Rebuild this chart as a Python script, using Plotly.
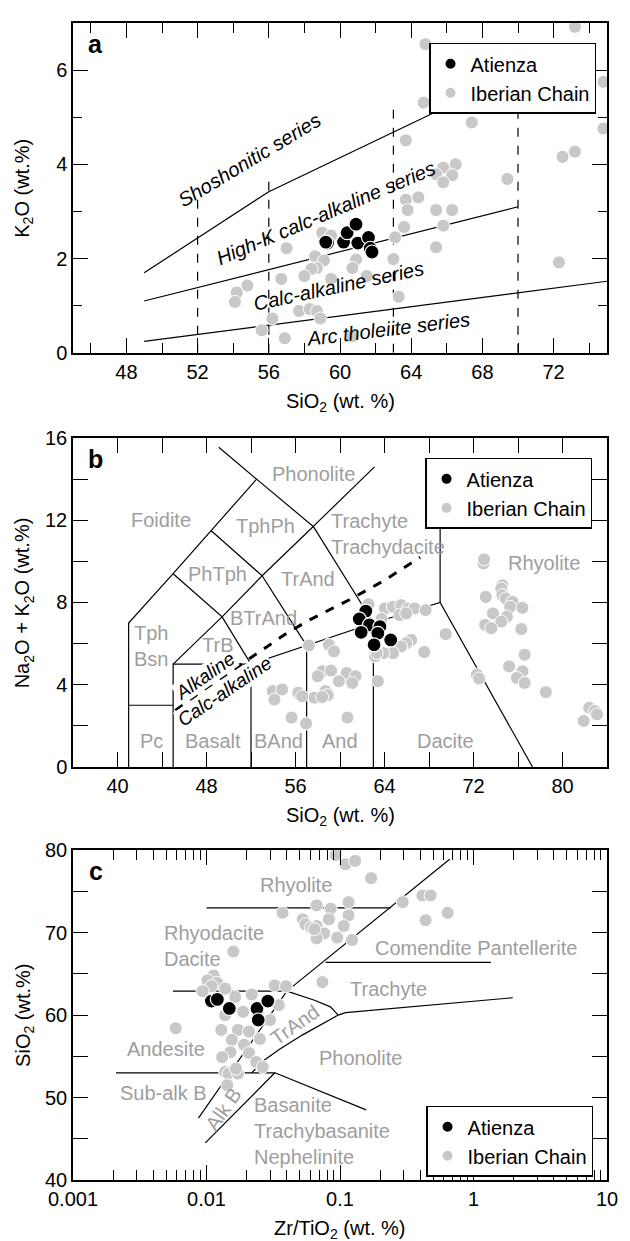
import math
import plotly.graph_objects as go

# ---------------- Panel a : K2O vs SiO2 ----------------
A_ATI_SIO2 = [59.3, 59.2, 60.2, 60.4, 60.9, 61.0, 61.6, 61.7, 61.8]
A_ATI_K2O = [2.33, 2.35, 2.35, 2.55, 2.73, 2.33, 2.45, 2.22, 2.14]
A_IBE_SIO2 = [64.8, 73.2, 74.8, 73.8, 74.8, 64.7, 67.4, 63.7, 72.5, 73.2, 69.4, 66.5, 65.8,
              65.4, 66.3, 65.8, 63.7, 64.4, 63.8, 65.4, 66.3, 63.6, 65.8, 63.1, 65.4, 63.0,
              63.3, 72.3, 57.0, 59.0, 59.5, 58.6, 59.1, 60.9, 58.7, 58.4, 60.7, 58.0, 56.7,
              59.5, 61.5, 54.8, 54.2, 54.1, 57.7, 58.3, 58.7, 58.9, 56.2, 55.6, 56.9, 60.7]
A_IBE_K2O = [6.55, 6.92, 5.75, 5.35, 4.76, 5.31, 4.89, 4.51, 4.16, 4.27, 3.69, 4.00, 3.93,
             3.79, 3.77, 3.62, 3.25, 3.30, 3.03, 3.03, 3.03, 2.67, 2.70, 2.45, 2.24, 1.99,
             1.19, 1.92, 2.22, 2.55, 2.49, 2.05, 1.96, 1.98, 1.80, 1.78, 1.80, 1.63, 1.57,
             1.57, 1.63, 1.43, 1.28, 1.08, 0.89, 0.93, 0.89, 0.73, 0.73, 0.48, 0.31, 0.35]
# series boundaries (Peccerillo & Taylor)
A_SHO_X = [49, 56, 70]
A_SHO_Y = [1.7, 3.42, 5.95]
A_HK_X = [49, 70]
A_HK_Y = [1.1, 3.1]
A_CA_X = [49, 75]
A_CA_Y = [0.245, 1.52]
A_DASH_SIO2 = [52, 56, 63, 70]
A_DASH_TOP = [3.3, 3.73, 5.35, 5.3]
A_SERIES_TEXT = ["<i>Shoshonitic series</i>", "<i>High-K calc-alkaline series</i>",
                 "<i>Calc-alkaline series</i>", "<i>Arc tholeiite series</i>"]
A_SERIES_X = [54.9, 59.2, 59.9, 62.7]
A_SERIES_Y = [4.1, 2.97, 1.42, 0.50]
A_SERIES_ANG = [-31, -23, -12, -7]

# ---------------- Panel b : TAS ----------------
B_ATI_SIO2 = [62.32, 61.73, 62.64, 63.59, 61.9, 63.4, 64.56, 63.06]
B_ATI_ALK = [7.58, 7.20, 6.91, 6.83, 6.55, 6.50, 6.18, 5.94]
B_IBE_SIO2 = [64.03, 64.76, 65.5, 66.1, 66.7, 67.7, 65.35, 65.95, 62.55, 63.73, 69.5, 66.4,
              65.95, 65.5, 67.57, 64.76, 63.9, 57.2, 59.0, 59.46, 63.15, 63.4, 58.4, 59.2,
              60.6, 61.4, 58.0, 59.9, 61.1, 58.7, 58.9, 57.7, 58.4, 56.25, 56.6, 53.95, 54.8,
              54.1, 55.65, 56.95, 60.67, 72.9, 72.95, 74.6, 73.1, 74.5, 74.6, 74.9, 75.5,
              75.3, 76.4, 73.75, 75.0, 74.5, 73.05, 73.6, 76.3, 76.6, 75.2, 76.4, 75.9, 76.6,
              78.5, 72.3, 72.5, 81.9, 82.4, 82.9, 83.1, 63.2, 63.3]
B_IBE_ALK = [7.71, 7.79, 7.87, 7.71, 7.71, 7.63, 7.39, 7.47, 7.91, 7.20, 6.46, 6.18,
             6.02, 5.86, 5.59, 5.54, 5.54, 5.91, 5.94, 5.62, 5.38, 4.17, 4.65, 4.69,
             4.57, 4.41, 4.41, 4.17, 4.09, 3.69, 3.49, 3.37, 3.40, 3.61, 3.44, 3.69, 3.77,
             3.28, 2.40, 2.11, 2.40, 9.9, 10.1, 8.84, 8.27, 8.68, 8.36, 8.2, 8.03,
             7.79, 7.74, 7.47, 7.31, 7.07, 6.91, 6.75, 6.71, 5.46, 4.89, 4.65, 4.33, 4.09,
             3.64, 4.49, 4.30, 2.24, 2.88, 2.72, 2.56, 5.70, 5.55]
B_FIELD_LINES = [
    [(41, 0), (41, 7), (45, 9.4), (48.4, 11.5), (52.5, 14), (49.1, 15.55)],
    [(41, 3), (45, 3)],
    [(45, 0), (45, 5), (52, 5), (57, 5.9), (63, 7), (69, 8), (77.3, 0)],
    [(52, 0), (52, 5)],
    [(57, 0), (57, 5.9)],
    [(63, 0), (63, 7)],
    [(45, 5), (49.4, 7.3), (45, 9.4)],
    [(49.4, 7.3), (52, 5)],
    [(49.4, 7.3), (53, 9.3), (48.4, 11.5)],
    [(53, 9.3), (57, 5.9)],
    [(53, 9.3), (57.6, 11.7), (52.5, 14)],
    [(57.6, 11.7), (63, 7)],
    [(57.6, 11.7), (63.1, 14.6)],
    [(69, 8), (69, 13)],
]
B_IB_X = [45.2, 48, 51, 55.2, 57.25, 60.8, 64, 67.2]
B_IB_Y = [2.75, 3.85, 4.95, 6.5, 7.15, 8.12, 9.08, 10.2]
B_FIELD_TEXT = ["Phonolite", "Foidite", "TphPh", "PhTph", "TrAnd", "BTrAnd", "TrB",
                "Tph<br>Bsn", "Pc", "Basalt", "BAnd", "And", "Dacite", "Rhyolite"]
B_FIELD_X = [57.6, 43.9, 53.3, 49.0, 57.1, 53.1, 49.0, 43.0, 43.1, 48.6, 54.5, 60.0, 69.5, 78.3]
B_FIELD_Y = [14.27, 12.0, 11.7, 9.4, 9.16, 7.23, 5.95, 5.9, 1.27, 1.27, 1.27, 1.27, 1.27, 9.94]

# ---------------- Panel c : Winchester & Floyd ----------------
C_ATI_ZRTI = [0.01089, 0.01206, 0.01482, 0.02389, 0.0288, 0.0244]
C_ATI_SIO2 = [61.7, 61.9, 60.8, 60.8, 61.7, 59.4]
C_IBE_ZRTI = [0.0927, 0.110, 0.130, 0.171, 0.295, 0.414, 0.477, 0.641, 0.438, 0.0668, 0.0851,
              0.116, 0.116, 0.0826, 0.0526, 0.0550, 0.0668, 0.076, 0.1067, 0.0668, 0.0953,
              0.123, 0.0371, 0.0607, 0.0643, 0.0159, 0.0113, 0.01017, 0.01205, 0.0109,
              0.00935, 0.01381, 0.0164, 0.0218, 0.0325, 0.0394, 0.0348, 0.0738, 0.0138,
              0.0188, 0.0129, 0.0172, 0.0208, 0.0155, 0.0191, 0.0251, 0.0299, 0.00588,
              0.0151, 0.0208, 0.0131, 0.0236, 0.0264, 0.0138, 0.0146, 0.0172, 0.0166,
              0.0143, 0.0242]
C_IBE_SIO2 = [79.4, 78.3, 78.7, 76.6, 73.7, 74.5, 74.5, 72.4, 71.5, 73.3, 72.9,
              73.7, 72.1, 71.6, 71.6, 71.0, 70.8, 69.9, 70.8, 69.3, 69.4,
              69.1, 72.4, 70.6, 70.4, 67.7, 64.8, 64.2, 63.9, 63.5,
              62.9, 63.2, 62.2, 62.5, 63.6, 63.5, 61.2, 64.0, 60.0,
              60.4, 58.2, 58.2, 58.0, 57.0, 56.4, 57.1, 59.4, 58.4,
              55.5, 55.4, 54.9, 54.3, 53.7, 53.1, 52.9, 52.9, 53.5,
              51.5, 60.2]
C_FIELD_LINES = [
    [(0.01, 73), (0.24, 73)],
    [(0.0056, 62.9), (0.04, 62.9)],
    [(0.04, 62.9), (0.663, 78.9)],
    [(0.04, 62.9), (0.0644, 61.8), (0.0848, 61.0), (0.097, 60.0)],
    [(0.097, 60.0), (0.11, 60.3), (1.97, 62.1)],
    [(0.0218, 53.0), (0.0264, 54.4), (0.0348, 55.8), (0.0525, 57.6), (0.097, 60.0)],
    [(0.078, 66.4), (1.35, 66.4)],
    [(0.0021, 53), (0.0325, 53)],
    [(0.0325, 53), (0.157, 48.5)],
    [(0.0325, 53), (0.0098, 44.5)],
    [(0.0087, 47.5), (0.04, 62.9)],
]
C_FIELD_TEXT = ["Rhyolite", "Rhyodacite<br>Dacite", "Comendite Pantellerite", "Trachyte",
                "Phonolite", "Andesite", "Sub-alk B", "Basanite<br>Trachybasanite<br>Nephelinite"]
C_FIELD_X = [0.047, 0.00462, 1.04, 0.232, 0.142, 0.0050, 0.0048, 0.0218]
C_FIELD_Y = [75.8, 68.4, 68.1, 63.2, 54.8, 55.9, 50.6, 46.0]
C_FIELD_ALIGN = ["center", "left", "center", "center", "center", "center", "center", "left"]
C_TILT_TEXT = ["TrAnd", "Alk B"]
C_TILT_X = [0.0457, 0.0134]
C_TILT_Y = [58.8, 48.6]
C_TILT_ANG = [-35, -55]

X_LOG_TICKVALS = [0.001, 0.01, 0.1, 1, 10]
X_LOG_TICKTEXT = ["0.001", "0.01", "0.1", "1", "10"]

FONT = "Liberation Sans, Arial, Helvetica, sans-serif"
GRAY_PT = "#c8c8c8"
GRAY_TXT = "#9e9e9e"

fig = go.Figure()


def seg_xy(lines):
    xs, ys = [], []
    for line in lines:
        for (x, y) in line:
            xs.append(x)
            ys.append(y)
        xs.append(None)
        ys.append(None)
    return xs, ys


def add_line(x, y, xa, ya, dash="solid", width=1.2):
    fig.add_trace(go.Scatter(x=x, y=y, mode="lines", xaxis=xa, yaxis=ya, showlegend=False,
                             hoverinfo="skip", line=dict(color="black", width=width, dash=dash)))


def add_points(x, y, xa, ya, legend):
    fig.add_trace(go.Scatter(x=x, y=y, mode="markers", xaxis=xa, yaxis=ya, name="Iberian Chain",
                             legend=legend, legendrank=2,
                             marker=dict(color=GRAY_PT, size=13,
                                         line=dict(color="white", width=1))))


def add_ati(x, y, xa, ya, legend):
    fig.add_trace(go.Scatter(x=x, y=y, mode="markers", xaxis=xa, yaxis=ya, name="Atienza",
                             legend=legend, legendrank=1,
                             marker=dict(color="black", size=14,
                                         line=dict(color="white", width=1.2))))


# ---- panel a lines
add_line(A_SHO_X, A_SHO_Y, "x", "y")
add_line(A_HK_X, A_HK_Y, "x", "y")
add_line(A_CA_X, A_CA_Y, "x", "y")
dx, dy = [], []
for s, t in zip(A_DASH_SIO2, A_DASH_TOP):
    dx += [s, s, None]
    dy += [0, t, None]
add_line(dx, dy, "x", "y", dash="dash")
# ---- panel b lines
bx, by = seg_xy(B_FIELD_LINES)
add_line(bx, by, "x2", "y2")
add_line(B_IB_X, B_IB_Y, "x2", "y2", dash="dash", width=3)
# ---- panel c lines
cx, cy = seg_xy(C_FIELD_LINES)
add_line(cx, cy, "x3", "y3")

# ---- points: gray below, black on top
add_points(A_IBE_SIO2, A_IBE_K2O, "x", "y", "legend")
add_points(B_IBE_SIO2, B_IBE_ALK, "x2", "y2", "legend2")
add_points(C_IBE_ZRTI, C_IBE_SIO2, "x3", "y3", "legend3")
add_ati(A_ATI_SIO2, A_ATI_K2O, "x", "y", "legend")
add_ati(B_ATI_SIO2, B_ATI_ALK, "x2", "y2", "legend2")
add_ati(C_ATI_ZRTI, C_ATI_SIO2, "x3", "y3", "legend3")

# ---------------- layout ----------------
H, W = 1241, 630
ML, MR, MT, MB = 73, 14, 12, 61
PH = H - MT - MB


def dom(top_px, bot_px):
    return [(H - MB - bot_px) / PH, (H - MB - top_px) / PH]


DOM_A = dom(12, 345)
DOM_B = dom(431, 763)
DOM_C = dom(847, 1180)


def ax(**kw):
    base = dict(showline=True, linecolor="black", linewidth=1.5, mirror="ticks", ticks="inside",
                ticklen=15, tickwidth=1.3, tickcolor="black", showgrid=False, zeroline=False,
                tickfont=dict(size=20, color="black", family=FONT))
    base.update(kw)
    return base


def minor(dtick, ln):
    return dict(ticks="inside", ticklen=ln, tickwidth=1.3, tickcolor="black", dtick=dtick,
                showgrid=False)


fig.update_layout(
    width=W, height=H, margin=dict(l=ML, r=MR, t=MT, b=MB),
    paper_bgcolor="white", plot_bgcolor="white",
    font=dict(family=FONT, size=20, color="black"),
    xaxis=ax(domain=[0, 1], range=[45, 75], dtick=4, tick0=0, minor=minor(2, 10), anchor="y"),
    yaxis=ax(domain=DOM_A, range=[0, 7], dtick=2, tick0=0, minor=minor(1, 9), anchor="x"),
    xaxis2=ax(domain=[0, 1], range=[36, 84], dtick=8, tick0=0, minor=minor(4, 15), anchor="y2"),
    yaxis2=ax(domain=DOM_B, range=[0, 16], dtick=4, tick0=0, minor=minor(2, 15), anchor="x2"),
    xaxis3=ax(domain=[0, 1], type="log", range=[-3, 1], tickvals=X_LOG_TICKVALS,
              ticktext=X_LOG_TICKTEXT, minor=minor("D1", 10), anchor="y3"),
    yaxis3=ax(domain=DOM_C, range=[40, 80], dtick=10, tick0=0, minor=minor(5, 15), anchor="x3"),
    showlegend=True,
)

LEG = dict(bgcolor="white", bordercolor="black", borderwidth=1.5, xanchor="left", yanchor="top",
           font=dict(size=20, family=FONT, color="black"), itemsizing="constant",
           tracegroupgap=0)


def px_x(px):
    return (px - ML) / (W - ML - MR)


def px_y(py):
    return (H - MB - py) / PH


fig.update_layout(
    legend=dict(LEG, x=px_x(435), y=px_y(32)),
    legend2=dict(LEG, x=px_x(431), y=px_y(451)),
    legend3=dict(LEG, x=px_x(432), y=px_y(1105)),
)

ann = []
# panel letters
for letter, (d0, d1) in zip(["a", "b", "c"], [DOM_A, DOM_B, DOM_C]):
    ann.append(dict(text="<b>%s</b>" % letter, xref="paper", yref="paper", x=px_x(96),
                    y=d1 - 21 / PH, xanchor="center", yanchor="middle", showarrow=False,
                    font=dict(size=25, color="black")))
# axis titles
XT = [("SiO<sub>2</sub> (wt. %)", 395), ("SiO<sub>2</sub> (wt. %)", 813),
      ("Zr/TiO<sub>2</sub> (wt. %)", 1230)]
for t, py in XT:
    ann.append(dict(text=t, xref="paper", yref="paper", x=0.5, y=px_y(py), xanchor="center",
                    yanchor="middle", showarrow=False, font=dict(size=20)))
YT = [("K<sub>2</sub>O (wt.%)", DOM_A), ("Na<sub>2</sub>O + K<sub>2</sub>O (wt.%)", DOM_B),
      ("SiO<sub>2</sub> (wt.%)", DOM_C)]
for t, d in YT:
    ann.append(dict(text=t, xref="paper", yref="paper", x=px_x(23), y=(d[0] + d[1]) / 2,
                    xanchor="center", yanchor="middle", textangle=-90, showarrow=False,
                    font=dict(size=20)))
# panel a series labels
for t, x, y, a in zip(A_SERIES_TEXT, A_SERIES_X, A_SERIES_Y, A_SERIES_ANG):
    ann.append(dict(text=t, xref="x", yref="y", x=x, y=y, textangle=a, showarrow=False,
                    font=dict(size=20, color="black")))
# panel b: alkaline / calc-alkaline labels (knock-out background), then field names
ann.append(dict(text="<i>Alkaline</i>", xref="x2", yref="y2", x=47.9, y=4.45, textangle=-35,
                showarrow=False, bgcolor="white", borderpad=0, font=dict(size=19, color="black")))
ann.append(dict(text="<i>Calc-alkaline</i>", xref="x2", yref="y2", x=49.6, y=3.69,
                textangle=-34, showarrow=False, bgcolor="white", borderpad=0,
                font=dict(size=19, color="black")))
for t, x, y in zip(B_FIELD_TEXT, B_FIELD_X, B_FIELD_Y):
    ann.append(dict(text=t, xref="x2", yref="y2", x=x, y=y, showarrow=False,
                    font=dict(size=20, color=GRAY_TXT)))
ann.append(dict(text="Trachyte<br>Trachydacite", xref="x2", yref="y2", x=59.0, y=11.33,
                xanchor="left", align="left", showarrow=False,
                font=dict(size=20, color=GRAY_TXT)))
# panel c field labels
for t, x, y, al in zip(C_FIELD_TEXT, C_FIELD_X, C_FIELD_Y, C_FIELD_ALIGN):
    ann.append(dict(text=t, xref="x3", yref="y3", x=math.log10(x), y=y, showarrow=False,
                    xanchor="left" if al == "left" else "center", align=al,
                    font=dict(size=20, color=GRAY_TXT)))
for t, x, y, a in zip(C_TILT_TEXT, C_TILT_X, C_TILT_Y, C_TILT_ANG):
    ann.append(dict(text=t, xref="x3", yref="y3", x=math.log10(x), y=y, textangle=a,
                    showarrow=False, font=dict(size=20, color=GRAY_TXT)))

fig.update_layout(annotations=ann)
fig.write_html("out.html")
